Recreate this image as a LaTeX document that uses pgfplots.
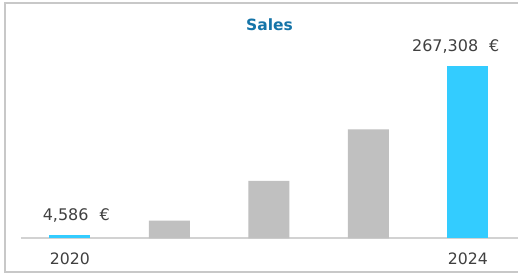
\documentclass[border=0pt]{standalone}
\usepackage{pgfplots}
\pgfplotsset{compat=1.18}
\usepackage{fontspec}
\setmainfont{DejaVu Sans}
\definecolor{framegray}{RGB}{200,200,200}
\definecolor{basegray}{RGB}{210,210,210}
\definecolor{bargray}{RGB}{192,192,192}
\definecolor{barcyan}{RGB}{51,204,255}
\definecolor{titleblue}{RGB}{21,116,168}
\definecolor{txt}{RGB}{64,64,64}
\begin{document}
\begin{tikzpicture}[x=1pt,y=1pt]
\useasboundingbox (0,0) rectangle (518,274);
\fill[white] (0,0) rectangle (518,274);
\draw[framegray, line width=2pt] (5,2) rectangle (530,271);
\node[font=\bfseries\fontsize{15.5}{18}\selectfont, text=titleblue] at (269.5,249) {Sales};
\begin{axis}[
  at={(21,55.5)}, anchor=south west, scale only axis,
  width=497pt, height=207pt,
  xmin=-0.4925, xmax=4.5025, ymin=0, ymax=321700,
  axis x line=bottom, axis y line=none,
  x axis line style={-, draw=basegray, line width=2pt},
  xtick={0,4}, xticklabels={2020,2024},
  major tick length=0pt,
  xticklabel style={anchor=center, yshift=-20.5pt, font=\fontsize{15.7}{18}\selectfont, text=txt},
  ybar, bar width=41pt, bar shift=0pt,
  clip=false
]
\addplot[fill=bargray, draw=none] coordinates {(1,27500) (2,89200) (3,169400)};
\addplot[fill=barcyan, draw=none, point meta=explicit symbolic,
  nodes near coords={\pgfplotspointmeta\hspace{11pt}€},
  every node near coord/.append style={anchor=west, inner sep=0pt, xshift=-27.3pt, yshift=19.5pt, font=\fontsize{16}{18}\selectfont, text=txt}]
  coordinates {(0,4586) [{4,586}]};
\addplot[fill=barcyan, draw=none, point meta=explicit symbolic,
  nodes near coords={\pgfplotspointmeta\hspace{11pt}€},
  every node near coord/.append style={anchor=west, inner sep=0pt, xshift=-56pt, yshift=19.5pt, font=\fontsize{16}{18}\selectfont, text=txt}]
  coordinates {(4,267308) [{267,308}]};
\end{axis}
\end{tikzpicture}
\end{document}
